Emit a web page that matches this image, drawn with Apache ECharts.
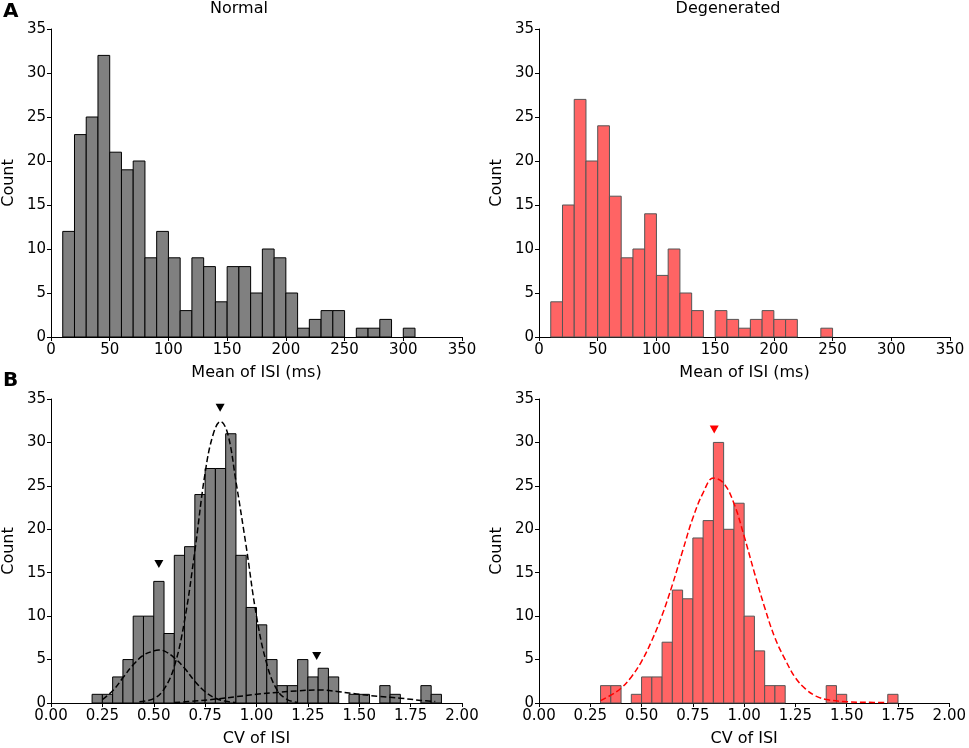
<!doctype html>
<html lang="en">
<head>
    <meta charset="UTF-8">
    <title>ISI histograms</title>
    <script src="https://cdn.jsdelivr.net/npm/echarts@6/dist/echarts.min.js"></script>
    <style>
        html, body { margin: 0; padding: 0; background: #fff; }
        #chart { width: 969px; height: 748px; }
    </style>
</head>
<body>
<div id="chart"></div>
<script type="text/javascript">
    // --- data ---
    // A: mean of ISI, bins of 10 ms starting at 10 ms
    var meanBinStart = 10;
    var meanBinWidth = 10;
    var normalMeanCounts = [12, 23, 25, 32, 21, 19, 20, 9, 12, 9, 3, 9, 8, 4, 8, 8, 5, 10, 9, 5, 1, 2, 3, 3, 0, 1, 1, 2, 0, 1];
    var degenMeanCounts  = [4, 15, 27, 20, 24, 16, 9, 10, 14, 7, 10, 5, 3, 0, 3, 2, 1, 2, 3, 2, 2, 0, 0, 1];

    // B: CV of ISI, bins of 0.05
    var cvBinWidth = 0.05;
    var normalCvStart = 0.20;
    var normalCvCounts = [1, 1, 3, 5, 10, 10, 14, 8, 17, 18, 24, 27, 27, 31, 17, 11, 9, 5, 2, 2, 5, 3, 4, 3, 0, 1, 1, 0, 2, 1, 0, 0, 2, 1];
    var degenCvStart = 0.30;
    var degenCvCounts = [2, 2, 0, 1, 3, 3, 7, 13, 12, 19, 21, 30, 20, 23, 10, 6, 2, 2, 0, 0, 0, 0, 2, 1, 0, 0, 0, 0, 1];

    // fitted curves (x, count) as seen on the figure
    var normalFit1 = [[0.25,0.4],[0.30,1.4],[0.35,2.9],[0.40,4.4],[0.45,5.5],[0.50,6.0],[0.525,6.1],[0.55,6.0],[0.60,5.2],[0.65,4.0],[0.70,2.5],[0.75,1.3],[0.80,0.55],[0.85,0.2],[0.90,0.05]];
    var normalFit2 = [[0.43,0.15],[0.50,0.5],[0.55,1.6],[0.60,4.2],[0.65,9.5],[0.70,17.5],[0.75,26.5],[0.79,31.0],[0.825,32.4],[0.86,31.0],[0.90,25.5],[0.95,18.0],[1.00,10.0],[1.05,4.5],[1.10,1.5],[1.15,0.4],[1.20,0.05]];
    var normalFit3 = [[0.60,0.05],[0.70,0.22],[0.80,0.45],[0.90,0.72],[1.00,1.0],[1.10,1.22],[1.20,1.4],[1.30,1.5],[1.40,1.3],[1.50,1.0],[1.60,0.75],[1.70,0.55],[1.80,0.3],[1.87,0.16]];
    var degenFit = [[0.30,0.27],[0.35,0.9],[0.40,1.7],[0.45,3.0],[0.50,4.8],[0.55,7.2],[0.60,10.1],[0.65,13.6],[0.70,17.5],[0.75,21.3],[0.80,24.2],[0.85,25.9],[0.90,25.3],[0.95,23.0],[1.00,19.2],[1.05,15.0],[1.10,11.0],[1.15,7.5],[1.20,5.0],[1.25,2.9],[1.30,1.6],[1.35,0.8],[1.40,0.4],[1.50,0.15],[1.60,0.08],[1.70,0.05]];

    // peak markers
    var normalPeaks = [[0.525,16.0],[0.823,34.0],[1.293,5.4]];
    var degenPeaks = [[0.854,31.5]];

    var countTicks = { min: 0, max: 35, interval: 5 };
    var meanTicks = { min: 0, max: 350, interval: 50 };
    var cvTicks = { min: 0, max: 2, interval: 0.25 };

    // make [start, end, count] from a bin list
    function toBins(start, width, counts) {
        var out = [];
        for (var i = 0; i < counts.length; i++) {
            if (counts[i] > 0) {
                var a = +(start + i * width).toFixed(4);
                out.push([a, +(a + width).toFixed(4), counts[i]]);
            }
        }
        return out;
    }

    function histRender(fill, stroke) {
        return function (params, api) {
            var p0 = api.coord([api.value(0), api.value(2)]);
            var p1 = api.coord([api.value(1), 0]);
            return {
                type: 'rect',
                shape: { x: p0[0], y: p0[1], width: p1[0] - p0[0], height: p1[1] - p0[1] },
                style: { fill: fill, stroke: stroke, lineWidth: 1 }
            };
        };
    }

    var font = 'DejaVu Sans';
    var axisCommon = {
        axisLine: { show: true, lineStyle: { color: '#000', width: 1 } },
        axisTick: { show: true, inside: false, length: 4, lineStyle: { color: '#000' } },
        splitLine: { show: false },
        axisLabel: { color: '#000', fontFamily: font, fontSize: 15, margin: 5 },
        nameTextStyle: { color: '#000', fontFamily: font, fontSize: 16 }
    };

    function xAx(idx, ticks, name, gap, fmt) {
        return Object.assign({}, axisCommon, {
            type: 'value', gridIndex: idx, min: ticks.min, max: ticks.max, interval: ticks.interval,
            name: name, nameLocation: 'middle', nameGap: gap,
            axisLabel: Object.assign({}, axisCommon.axisLabel, { formatter: fmt, margin: 6 })
        });
    }
    function yAx(idx) {
        return Object.assign({}, axisCommon, {
            type: 'value', gridIndex: idx, min: countTicks.min, max: countTicks.max, interval: countTicks.interval,
            name: 'Count', nameLocation: 'middle', nameGap: 34
        });
    }

    var myChart = echarts.init(document.getElementById('chart'), null, { renderer: 'canvas' });

    var dashed = [6, 3];
    myChart.setOption({
        animation: false,
        backgroundColor: '#fff',
        grid: [
            { left: 50, top: 29, width: 412, height: 308 },
            { left: 539, top: 29, width: 411, height: 308 },
            { left: 50, top: 399, width: 412, height: 307 },
            { left: 539, top: 399, width: 411, height: 307 }
        ],
        xAxis: [
            xAx(0, meanTicks, 'Mean of ISI (ms)', 28, '{value}'),
            xAx(1, meanTicks, 'Mean of ISI (ms)', 28, '{value}'),
            xAx(2, cvTicks, 'CV of ISI', 28, function (v) { return v.toFixed(2); }),
            xAx(3, cvTicks, 'CV of ISI', 28, function (v) { return v.toFixed(2); })
        ],
        yAxis: [yAx(0), yAx(1), yAx(2), yAx(3)],
        graphic: [
            { type: 'text', left: 3, top: 2, style: { text: 'A', font: 'bold 20px "DejaVu Sans"', fill: '#000' } },
            { type: 'text', left: 3, top: 371, style: { text: 'B', font: 'bold 20px "DejaVu Sans"', fill: '#000' } },
            { type: 'text', x: 239, y: 9, style: { text: 'Normal', font: '16px "DejaVu Sans"', fill: '#000', align: 'center', verticalAlign: 'middle' } },
            { type: 'text', x: 728, y: 9, style: { text: 'Degenerated', font: '16px "DejaVu Sans"', fill: '#000', align: 'center', verticalAlign: 'middle' } }
        ],
        series: [
            {
                type: 'custom', xAxisIndex: 0, yAxisIndex: 0,
                renderItem: histRender('#808080', '#000'),
                data: toBins(meanBinStart, meanBinWidth, normalMeanCounts)
            },
            {
                type: 'custom', xAxisIndex: 1, yAxisIndex: 1,
                renderItem: histRender('#ff6464', '#555'),
                data: toBins(meanBinStart, meanBinWidth, degenMeanCounts)
            },
            {
                type: 'custom', xAxisIndex: 2, yAxisIndex: 2,
                renderItem: histRender('#808080', '#000'),
                data: toBins(normalCvStart, cvBinWidth, normalCvCounts)
            },
            {
                type: 'custom', xAxisIndex: 3, yAxisIndex: 3,
                renderItem: histRender('#ff6464', '#555'),
                data: toBins(degenCvStart, cvBinWidth, degenCvCounts)
            },
            {
                type: 'line', xAxisIndex: 2, yAxisIndex: 2, smooth: 0.4, symbol: 'none',
                lineStyle: { color: '#000', width: 1.5, type: dashed }, data: normalFit1
            },
            {
                type: 'line', xAxisIndex: 2, yAxisIndex: 2, smooth: 0.4, symbol: 'none',
                lineStyle: { color: '#000', width: 1.5, type: dashed }, data: normalFit2
            },
            {
                type: 'line', xAxisIndex: 2, yAxisIndex: 2, smooth: 0.4, symbol: 'none',
                lineStyle: { color: '#000', width: 1.5, type: dashed }, data: normalFit3
            },
            {
                type: 'line', xAxisIndex: 3, yAxisIndex: 3, smooth: 0.4, symbol: 'none',
                lineStyle: { color: '#ff0000', width: 1.5, type: dashed }, data: degenFit
            },
            {
                type: 'scatter', xAxisIndex: 2, yAxisIndex: 2, symbol: 'triangle', symbolRotate: 180,
                symbolSize: [9, 8], itemStyle: { color: '#000', opacity: 1 }, data: normalPeaks
            },
            {
                type: 'scatter', xAxisIndex: 3, yAxisIndex: 3, symbol: 'triangle', symbolRotate: 180,
                symbolSize: [9, 8], itemStyle: { color: '#ff0000', opacity: 1 }, data: degenPeaks
            }
        ]
    });

    window.onresize = function () {
        myChart.resize();
    };
</script>
</body>
</html>
